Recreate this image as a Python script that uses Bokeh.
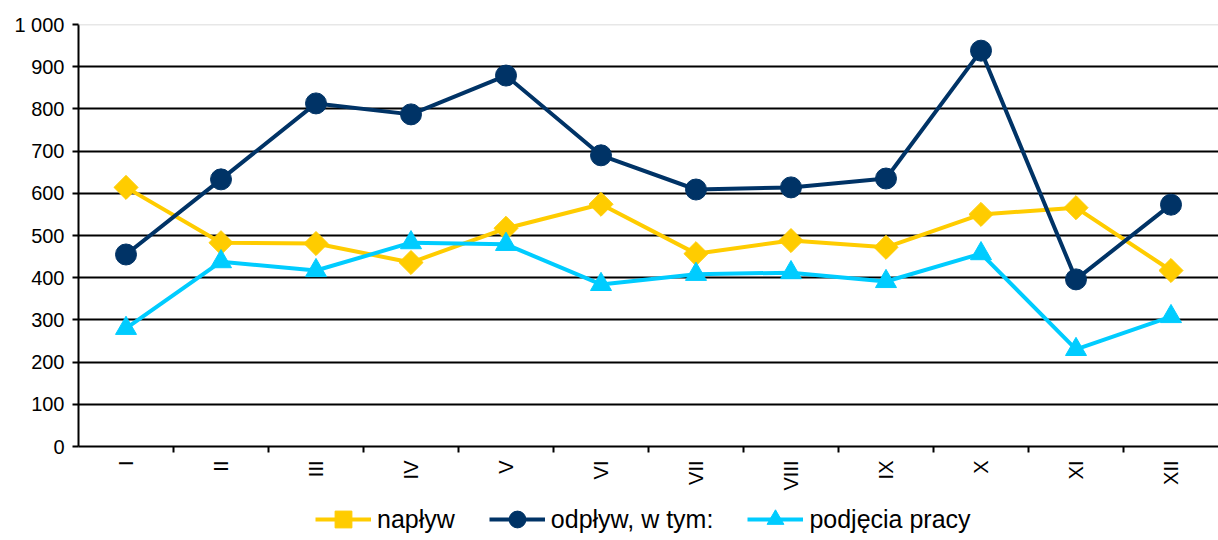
import math
from bokeh.plotting import figure
from bokeh.layouts import column
from bokeh.models import (ColumnDataSource, FixedTicker, Legend, LegendItem, Span, Range1d)
from bokeh.embed import file_html
from bokeh.resources import INLINE

months = ["I", "II", "III", "IV", "V", "VI", "VII", "VIII", "IX", "X", "XI", "XII"]
naplyw = [614, 483, 481, 436, 517, 574, 457, 488, 472, 550, 566, 417]
odplyw = [455, 633, 813, 787, 879, 690, 609, 614, 635, 938, 396, 573]
podjecia = [280, 438, 417, 483, 479, 384, 408, 412, 391, 457, 230, 308]
y_ticks = [0, 100, 200, 300, 400, 500, 600, 700, 800, 900, 1000]
labels = ["napływ", "odpływ, w tym:", "podjęcia pracy"]

FONT = "Liberation Sans"
C_N, C_O, C_P = "#FFCC00", "#003366", "#00CCFF"
x = list(range(1, len(months) + 1))
src = ColumnDataSource(dict(x=x, n=naplyw, o=odplyw, p=podjecia))

p = figure(width=1218, height=498, output_backend="svg", toolbar_location=None,
           x_range=Range1d(0.5, 12.5), y_range=Range1d(0, 1000),
           min_border_left=78, min_border_top=24, min_border_right=0, min_border_bottom=52)
p.outline_line_color = None
p.background_fill_color = "white"

# grid
p.xgrid.grid_line_color = None
p.ygrid.ticker = FixedTicker(ticks=y_ticks[1:-1])
p.ygrid.grid_line_color = "black"
p.ygrid.grid_line_width = 2
p.add_layout(Span(location=1000, dimension="width", line_color="#D0D0D0", line_width=1.5))

# y axis
ya = p.yaxis[0]
ya.ticker = FixedTicker(ticks=y_ticks)
ya.major_label_overrides = {1000: "1 000"}
ya.axis_line_color = "black"
ya.axis_line_width = 2
ya.major_tick_line_color = "black"
ya.major_tick_line_width = 2
ya.major_tick_out = 6
ya.major_tick_in = 0
ya.minor_tick_line_color = None
ya.major_label_text_font = FONT
ya.major_label_text_font_size = "20px"
ya.major_label_text_color = "black"
ya.major_label_standoff = 8

# x axis
xa = p.xaxis[0]
xa.ticker = FixedTicker(ticks=x, minor_ticks=[i + 0.5 for i in x[:-1]])
xa.major_label_overrides = {i: m for i, m in zip(x, months)}
xa.major_label_orientation = math.pi / 2
xa.axis_line_color = "black"
xa.axis_line_width = 2
xa.major_tick_line_color = None
xa.major_tick_out = 0
xa.major_tick_in = 0
xa.minor_tick_line_color = "black"
xa.minor_tick_line_width = 2
xa.minor_tick_out = 6
xa.minor_tick_in = 0
xa.major_label_text_font = FONT
xa.major_label_text_font_size = "20px"
xa.major_label_text_color = "black"
xa.major_label_standoff = 8

ln = p.line("x", "n", source=src, line_color=C_N, line_width=4)
mn = p.scatter("x", "n", source=src, marker="square", angle=math.pi / 4, size=17,
               fill_color=C_N, line_color=C_N)
lo = p.line("x", "o", source=src, line_color=C_O, line_width=4)
mo = p.scatter("x", "o", source=src, marker="circle", size=21,
               fill_color=C_O, line_color=C_O)
lp = p.line("x", "p", source=src, line_color=C_P, line_width=4)
mp = p.scatter("x", "p", source=src, marker="triangle", size=21,
               fill_color=C_P, line_color=C_P)

# legend strip below the chart (its renderers hold points outside the visible range)
lf = figure(width=1218, height=42, output_backend="svg", toolbar_location=None,
            x_range=Range1d(0, 1), y_range=Range1d(0, 1),
            x_axis_type=None, y_axis_type=None,
            min_border_left=0, min_border_right=0, min_border_top=0, min_border_bottom=0)
lf.outline_line_color = None
lf.xgrid.grid_line_color = None
lf.ygrid.grid_line_color = None
off = dict(x=[-5, -4], y=[-5, -5])
gl_n = lf.line(x=off["x"], y=off["y"], line_color=C_N, line_width=4)
gm_n = lf.scatter(x=off["x"], y=off["y"], marker="square", angle=math.pi / 4, size=17,
                  fill_color=C_N, line_color=C_N)
gl_o = lf.line(x=off["x"], y=off["y"], line_color=C_O, line_width=4)
gm_o = lf.scatter(x=off["x"], y=off["y"], marker="circle", size=21, fill_color=C_O, line_color=C_O)
gl_p = lf.line(x=off["x"], y=off["y"], line_color=C_P, line_width=4)
gm_p = lf.scatter(x=off["x"], y=off["y"], marker="triangle", size=21, fill_color=C_P, line_color=C_P)

legend = Legend(items=[LegendItem(label=labels[0], renderers=[gl_n, gm_n]),
                       LegendItem(label=labels[1], renderers=[gl_o, gm_o]),
                       LegendItem(label=labels[2], renderers=[gl_p, gm_p])],
                orientation="horizontal", location=(237, 0),
                label_text_font=FONT, label_text_font_size="25px",
                label_text_color="black",
                glyph_width=56, glyph_height=42, spacing=34, label_standoff=6,
                border_line_color=None, background_fill_alpha=0,
                padding=0, margin=0)
lf.add_layout(legend, "center")

layout = column(p, lf, spacing=0)
open("out.html", "w").write(file_html(layout, INLINE))
